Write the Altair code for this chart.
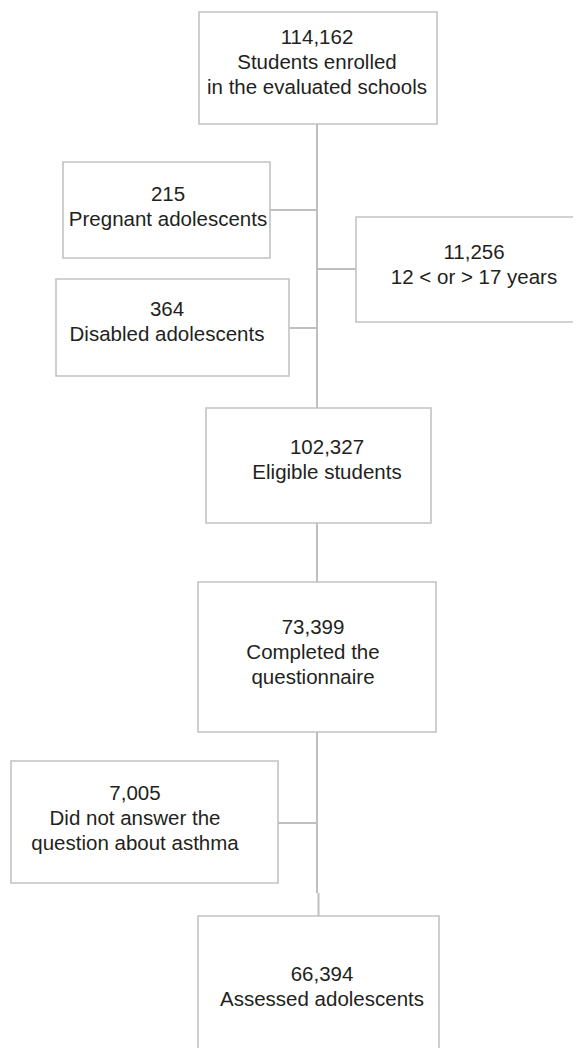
import altair as alt
import pandas as pd

# ---- content (data) ----
counts = ["114,162", "215", "11,256", "364", "102,327", "73,399", "7,005", "66,394"]
labels = [
    ["Students enrolled", "in the evaluated schools"],
    ["Pregnant adolescents"],
    ["12 < or > 17 years"],
    ["Disabled adolescents"],
    ["Eligible students"],
    ["Completed the", "questionnaire"],
    ["Did not answer the", "question about asthma"],
    ["Assessed adolescents"],
]

# ---- layout (page pixel coordinates) ----
box_x1 = [199, 63, 356, 56, 206, 198, 11, 198]
box_x2 = [437, 270, 594, 289, 431, 436, 278, 439]
box_y1 = [12, 162, 217, 279, 408, 582, 761, 916]
box_y2 = [124, 258, 322, 376, 523, 732, 883, 1080]
text_cx = [317, 168, 474, 167, 327, 313, 135, 322]
text_cy = [63, 207.5, 265, 322.5, 460, 653, 819, 987]
line_gap = 25

# connectors: (x1, x2, y1, y2)
conn = [
    (317, 317, 124, 408),
    (317, 317, 523, 582),
    (317, 317, 732, 893),
    (318.5, 318.5, 893, 916),
    (270, 317, 210, 210),
    (289, 317, 328, 328),
    (317, 356, 269, 269),
    (278, 317, 823, 823),
]

W, H = 565, 1040
X0, Y0 = 8, 8

boxes = pd.DataFrame({"x1": box_x1, "x2": box_x2, "y1": box_y1, "y2": box_y2})
rows = []
for i, (c, lab) in enumerate(zip(counts, labels)):
    lines = [c] + lab
    n = len(lines)
    for j, t in enumerate(lines):
        rows.append({"x": text_cx[i], "y": text_cy[i] + (j - (n - 1) / 2) * line_gap, "t": t})
texts = pd.DataFrame(rows)
conns = pd.DataFrame(conn, columns=["x1", "x2", "y1", "y2"])

xs = alt.Scale(domain=[X0, X0 + W], nice=False, zero=False)
ys = alt.Scale(domain=[Y0, Y0 + H], nice=False, zero=False, reverse=True)

rect = alt.Chart(boxes).mark_rect(
    fill="white", stroke="#c2c2c4", strokeWidth=1.6, clip=True
).encode(
    x=alt.X("x1:Q", scale=xs, axis=None), x2="x2:Q",
    y=alt.Y("y1:Q", scale=ys, axis=None), y2="y2:Q",
)

rules = alt.Chart(conns).mark_rule(color="#bfbfc2", strokeWidth=2).encode(
    x=alt.X("x1:Q", scale=xs, axis=None), x2="x2:Q",
    y=alt.Y("y1:Q", scale=ys, axis=None), y2="y2:Q",
)

txt = alt.Chart(texts).mark_text(
    font="Liberation Sans", fontSize=20.5, color="#231f20",
    align="center", baseline="middle"
).encode(
    x=alt.X("x:Q", scale=xs, axis=None),
    y=alt.Y("y:Q", scale=ys, axis=None),
    text="t:N",
)

chart = alt.layer(rules, rect, txt).properties(
    width=W, height=H, padding=0, autosize=alt.AutoSizeParams(type="none")
).configure_view(stroke=None)

chart.save("out.html", embed_options={"renderer": "svg", "actions": False})
